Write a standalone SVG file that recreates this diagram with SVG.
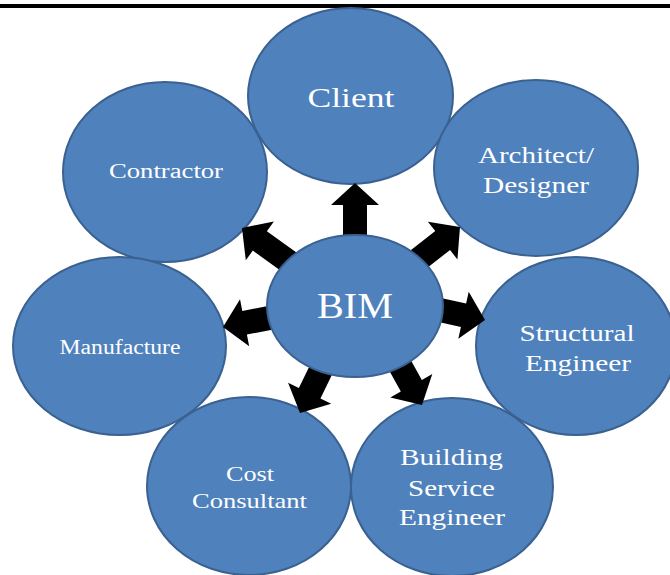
<svg xmlns="http://www.w3.org/2000/svg" xmlns:xlink="http://www.w3.org/1999/xlink" width="670" height="575" viewBox="0 0 670 575">
<style>
.node{fill:#4F81BD;stroke:#3A6190;stroke-width:2}
.lbl{font-family:"Liberation Serif","Times New Roman",serif;fill:#FFFFFF;text-anchor:middle}
.arr{fill:#000000}
</style>
<defs>
<path id="arr" d="M-70,-12 H-22 V-24 L0,0 L-22,24 V12 H-70 Z"/>
</defs>
<rect x="0" y="4" width="670" height="4" fill="#000000"/>
<g id="node-contractor">
<ellipse class="node" cx="165" cy="172" rx="102" ry="90"/>
<text class="lbl" x="166" y="178" font-size="20" textLength="114" lengthAdjust="spacingAndGlyphs">Contractor</text>
</g>
<g id="node-client">
<ellipse class="node" cx="350.5" cy="96" rx="102.5" ry="88"/>
<text class="lbl" x="351" y="107" font-size="28" textLength="87" lengthAdjust="spacingAndGlyphs">Client</text>
</g>
<g id="node-architect">
<ellipse class="node" cx="536" cy="168" rx="102" ry="88"/>
<text class="lbl" x="536" y="163" font-size="23" textLength="116" lengthAdjust="spacingAndGlyphs">Architect/</text>
<text class="lbl" x="536" y="193" font-size="23" textLength="106" lengthAdjust="spacingAndGlyphs">Designer</text>
</g>
<g id="node-manufacture">
<ellipse class="node" cx="119.5" cy="346" rx="106.5" ry="89"/>
<text class="lbl" x="120" y="354" font-size="20" textLength="121" lengthAdjust="spacingAndGlyphs">Manufacture</text>
</g>
<g id="node-structural">
<ellipse class="node" cx="576" cy="346" rx="100" ry="89"/>
<text class="lbl" x="577" y="341" font-size="24" textLength="115" lengthAdjust="spacingAndGlyphs">Structural</text>
<text class="lbl" x="578" y="371" font-size="24" textLength="106" lengthAdjust="spacingAndGlyphs">Engineer</text>
</g>
<g id="node-cost">
<ellipse class="node" cx="249" cy="486" rx="102" ry="89"/>
<text class="lbl" x="250" y="481" font-size="22" textLength="48" lengthAdjust="spacingAndGlyphs">Cost</text>
<text class="lbl" x="249.5" y="508" font-size="22" textLength="115" lengthAdjust="spacingAndGlyphs">Consultant</text>
</g>
<g id="node-building">
<ellipse class="node" cx="452" cy="487" rx="101" ry="89"/>
<text class="lbl" x="451.5" y="465" font-size="24" textLength="103" lengthAdjust="spacingAndGlyphs">Building</text>
<text class="lbl" x="451.5" y="496" font-size="24" textLength="87" lengthAdjust="spacingAndGlyphs">Service</text>
<text class="lbl" x="452" y="525" font-size="24" textLength="106" lengthAdjust="spacingAndGlyphs">Engineer</text>
</g>
<g id="connectors" class="arr">
<use xlink:href="#arr" href="#arr" transform="translate(355,183) rotate(-90)"/>
<use xlink:href="#arr" href="#arr" transform="translate(242,228) rotate(215.8)"/>
<use xlink:href="#arr" href="#arr" transform="translate(460,227) rotate(-38)"/>
<use xlink:href="#arr" href="#arr" transform="translate(223,327) rotate(169)"/>
<use xlink:href="#arr" href="#arr" transform="translate(485,320) rotate(12.5)"/>
<use xlink:href="#arr" href="#arr" transform="translate(300,413) rotate(116)"/>
<use xlink:href="#arr" href="#arr" transform="translate(422,405) rotate(61)"/>
</g>
<g id="node-bim">
<ellipse class="node" cx="355" cy="306" rx="88" ry="71"/>
<text class="lbl" x="355" y="318" font-size="36" textLength="76" lengthAdjust="spacingAndGlyphs">BIM</text>
</g>
</svg>
